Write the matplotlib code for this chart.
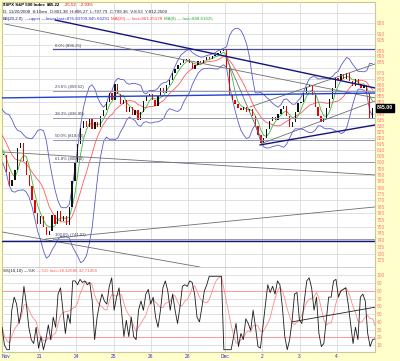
import numpy as np
import pandas as pd
import matplotlib
matplotlib.use('Agg')
import matplotlib.pyplot as plt
from matplotlib.patches import Rectangle
from matplotlib.ticker import NullLocator

plt.rcParams['font.family'] = ['Liberation Sans', 'DejaVu Sans']

# 30 minute closes, 13 bars per session
warmup = [852, 848, 845, 840, 838, 834, 830, 826, 822, 818, 814, 810, 806]  # Nov 19, left of the chart
closes = [
    806, 792, 781, 786, 794, 812, 816, 801, 790, 781, 770, 760, 752,   # Nov 20
    758, 750, 744, 747, 759, 752, 762, 754, 758, 751, 765, 785, 800,   # Nov 21
    815, 828, 834, 829, 836, 827, 833, 829, 838, 843, 850, 858, 852,   # Nov 24
    866, 857, 848, 852, 842, 846, 839, 843, 835, 842, 851, 855, 857,   # Nov 25
    852, 847, 855, 862, 858, 865, 869, 875, 879, 882, 884, 887, 888,   # Nov 26
    884, 879, 882, 886, 884, 887, 889, 888, 890, 891, 893, 895, 896,   # Nov 28
    880, 856, 852, 848, 845, 843, 846, 842, 844, 838, 830, 822, 816,   # Dec 1
    820, 827, 834, 837, 835, 840, 844, 847, 838, 829, 833, 842, 849,   # Dec 2
    850, 858, 863, 865, 856, 846, 838, 833, 836, 845, 853, 862, 871,   # Dec 3
    869, 874, 870, 875, 868, 864, 870, 866, 862, 865, 858, 836, 845,   # Dec 4
]
bars_per_day = 13
day_labels = ["Nov", "21", "24", "25", "26", "28", "Dec", "2", "3", "4"]

# stochastic %K
pct_k = [33, 10, 4, 4, 55, 72, 63, 38, 55, 86, 63, 33, 17, 12, 33, 6, 21, 4, 17, 36,
         17, 46, 33, 76, 84, 55, 25, 50, 38, 93, 93, 88, 95, 91, 93, 88, 91, 67, 17, 46,
         63, 76, 67, 63, 86, 97, 55, 72, 84, 55, 21, 42, 21, 46, 21, 17, 55, 67, 55, 76,
         82, 63, 72, 46, 33, 55, 84, 93, 80, 55, 76, 55, 38, 59, 86, 88, 86, 93, 91, 76,
         46, 40, 59,
         80, 88, 99, 99, 99, 99, 99, 99, 4, 4, 4, 4, 21, 38, 8, 25, 17, 44, 38, 29,
         55, 33, 8, 6, 33, 59, 88, 78, 86, 76, 93, 88, 59, 21, 4, 17, 42, 76, 78, 42,
         38, 67, 93, 97, 84, 55, 72, 25, 8, 12, 42, 72, 72, 93, 95, 72, 80, 82, 84, 63,
         38, 12, 33, 17, 72, 76, 67, 25, 8, 17, 18]

# fibonacci retracement 741.02 -> 896.25
fib_pct = ["0.0%", "23.6%", "38.2%", "50.0%", "61.8%", "100.0%"]
fib_lvl = [896.25, 859.62, 836.95, 818.64, 800.32, 741.02]

# hand drawn trend lines: (day0, price0, day1, price1)
navy_lines = [(1.43, 923.1, 10.03, 862.2), (0.0, 739.5, 10.03, 739.5),
              (6.94, 814.2, 10.03, 830.7)]
blue_lines = [(0.0, 853.6, 10.03, 857.8)]
gray_lines = [(0.08, 919.4, 10.03, 853.6), (0.0, 746.0, 5.32, 720.2),
              (1.16, 740.7, 10.03, 765.0), (0.0, 808.5, 10.03, 790.0),
              (7.02, 815.8, 10.03, 851.0), (6.67, 845.9, 10.03, 883.2),
              (6.0, 891.3, 7.02, 815.8)]
stoch_line = (7.8, 40, 10.03, 59)

s = pd.Series(warmup + closes, dtype=float)
ma20 = s.rolling(10).mean()
ma8 = s.rolling(4).mean()
sd = s.rolling(10).std(ddof=0)
bb_up = ma20 + 2 * sd
bb_lo = ma20 - 2 * sd
xd = (np.arange(len(s)) - len(warmup) + 0.5) / bars_per_day
opens = s.shift(1)

fig = plt.figure(figsize=(4.0, 3.61), dpi=100, facecolor='#FFFFCC')
fig.add_artist(Rectangle((0.005, 0.0249), 0.9325, 0.9695, transform=fig.transFigure,
                         facecolor='white', edgecolor='#C8C89A', lw=0.8, zorder=0))
ax = fig.add_axes([0.005, 0.2604, 0.9325, 0.7341])
ax2 = fig.add_axes([0.005, 0.0249, 0.9325, 0.2355], sharex=ax)
for a in (ax, ax2):
    a.set_facecolor('none')
    for sp in a.spines.values():
        sp.set_visible(False)

# ---- price panel
ax.set_yscale('log')
ax.set_ylim(720.2, 940)
ax.set_xlim(0, 10.03)
for p in range(730, 940, 10):
    ax.axhline(p, color='#DADADA', lw=0.6, zorder=0.5)
for d in range(1, 10):
    ax.axvline(d, color='#DADADA', lw=0.6, zorder=0.5)

ax.plot(xd, bb_up, color='#5a5acc', lw=0.6, zorder=1.5)
ax.plot(xd, bb_lo, color='#5a5acc', lw=0.6, zorder=1.5)
ax.plot(xd, ma20, color='#ff5a5a', lw=0.6, zorder=1.6)
ax.plot(xd, ma8, color='#3cb93c', lw=0.6, zorder=1.6)

w = 0.45 / bars_per_day
for i in range(len(warmup), len(s)):
    o, c = opens[i], s[i]
    col = '#ee0000' if c < o else '#111111'
    ax.bar(xd[i], max(abs(c - o), 0.8), bottom=min(o, c), width=w, color=col,
           lw=0, zorder=2)

for lv in fib_lvl:
    ax.plot([1.37, 10.03], [lv, lv], color='#9595b5', lw=0.7, zorder=2.5)
ax.plot([1.37, 10.03], [fib_lvl[0]] * 2, color='#4a4aa0', lw=0.9, zorder=2.6)
for pc, lv in zip(fib_pct, fib_lvl):
    ax.text(1.42, lv * 1.0015, f"{pc} ({lv:.2f})", fontsize=3.1, color='#404055',
            va='bottom', ha='left', zorder=4)

for x0, y0, x1, y1 in gray_lines:
    ax.plot([x0, x1], [y0, y1], color='#6e6e6e', lw=0.6, zorder=3)
for x0, y0, x1, y1 in navy_lines:
    ax.plot([x0, x1], [y0, y1], color='#14147a', lw=1.0, zorder=3.2)
for x0, y0, x1, y1 in blue_lines:
    ax.plot([x0, x1], [y0, y1], color='#2244cc', lw=1.0, zorder=3.2)

ticks = [t for t in range(725, 925, 5) if t not in (845, 880, 900, 915)]
ax.yaxis.tick_right()
ax.set_yticks(ticks, [str(t) for t in ticks])
ax.yaxis.set_minor_locator(NullLocator())
ax.tick_params(axis='y', which='both', length=0, pad=1.5, labelsize=3.5,
               labelcolor='#ff7a7a')
ax.tick_params(axis='x', bottom=False, labelbottom=False)
ax.annotate(f"{closes[-1]:.2f}", xy=(1.0, closes[-1]), xycoords=ax.get_yaxis_transform(),
            xytext=(1.2, 0), textcoords='offset points', va='center', ha='left',
            fontsize=3.8, color='white', fontweight='bold', annotation_clip=False,
            bbox=dict(boxstyle='square,pad=0.2', fc='black', ec='black'), zorder=10)

fs = 3.2


def chain(prev, txt, color, weight='normal'):
    return ax.annotate(txt, xy=(1, 0), xycoords=prev, xytext=(1.2, 0),
                       textcoords='offset points', va='bottom', ha='left',
                       color=color, fontsize=fs, fontweight=weight, zorder=6)


t = fig.text(0.0075, 0.981, r"\$SPX S&P 500 Index", fontsize=fs, fontweight='bold',
             color='black', va='bottom', zorder=6)
t = chain(t, "845.22", 'black', 'bold')
t = chain(t, "  -25.52", '#ee0000')
t = chain(t, " -2.93%", '#ee0000')

fig.text(0.0075, 0.962, "D: 11/20/2008  8:10am  O:801.38  H:806.27  L:797.79  "
         "C:799.36  V:8.53  Y:812.2509", fontsize=fs, color='#202040', va='bottom')

t = fig.text(0.0075, 0.943, "BB(20,2.0)", fontsize=fs, color='#101070', va='bottom')
t = chain(t, "\u2014upper \u2014lower last=876.83709,845.66291", '#3333cc')
t = chain(t, "MA(20) \u2014 last=861.25178", '#ff3333')
t = chain(t, "MA(8) \u2014 last=848.61625", '#2fa82f')

# ---- stochastic panel
kx = np.linspace(0, 10.03, len(pct_k))
pct_d = pd.Series(pct_k, dtype=float).rolling(6, min_periods=1).mean()
ax2.set_ylim(1, 111)
for v in range(10, 110, 10):
    ax2.axhline(v, color='#DADADA', lw=0.6, zorder=0.5)
for d in range(1, 10):
    ax2.axvline(d, color='#DADADA', lw=0.6, zorder=0.5)
for v in (20, 80):
    ax2.axhline(v, color='#ff9a9a', lw=0.7, zorder=0.6)
ax2.plot(kx, pct_d, color='#ff8a8a', lw=0.6, zorder=2)
ax2.plot(kx, pct_k, color='#1a1a1a', lw=0.6, zorder=3)
ax2.plot([stoch_line[0], stoch_line[2]], [stoch_line[1], stoch_line[3]],
         color='#202020', lw=0.6, zorder=3)
ax2.spines['top'].set_visible(True)
ax2.spines['top'].set_color('#C8C8C8')
ax2.spines['top'].set_linewidth(0.6)

ax2.yaxis.tick_right()
ax2.set_yticks(range(10, 110, 10), [str(v) for v in range(10, 110, 10)])
ax2.tick_params(axis='y', length=0, pad=1.5, labelsize=3.5, labelcolor='#ff7a7a')
ax2.set_xticks(range(10), day_labels)
ax2.tick_params(axis='x', length=0, pad=1.2, labelsize=3.5, labelcolor='#2a2ae0')
ax2.get_xticklabels()[0].set_ha('left')

t = fig.text(0.0075, 0.245, "SS(10,10) \u2014%K", fontsize=fs, color='#202020', va='bottom')
t = ax2.annotate("\u2014%D last=18.42686,32.71458", xy=(1, 0), xycoords=t, xytext=(1.2, 0),
                 textcoords='offset points', va='bottom', ha='left', color='#ff5a5a',
                 fontsize=fs)

fig.savefig('out.png', dpi=100, facecolor=fig.get_facecolor())
